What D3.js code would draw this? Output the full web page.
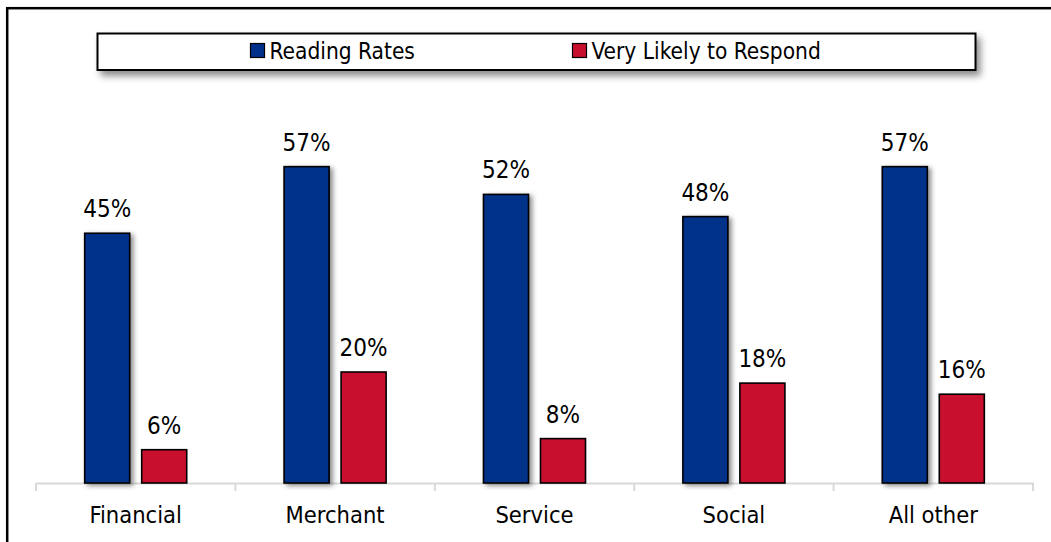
<!DOCTYPE html>
<html>
<head>
<meta charset="utf-8">
<script src="https://cdn.jsdelivr.net/npm/d3@7/dist/d3.min.js"></script>
<style>
  html, body { margin: 0; padding: 0; background: #fff; }
  svg { display: block; }
  text { font-family: "DejaVu Sans Condensed", "DejaVu Sans", sans-serif; font-stretch: condensed; fill: #000; }
</style>
</head>
<body>
<svg id="chart" width="1051" height="542"></svg>
<script>
// Chart data
const categories = ["Financial", "Merchant", "Service", "Social", "All other"];
const seriesNames = ["Reading Rates", "Very Likely to Respond"];
const readingRates = [0.45, 0.57, 0.52, 0.48, 0.57];
const veryLikely = [0.06, 0.20, 0.08, 0.18, 0.16];
const seriesColors = ["#00308A", "#C8102E"];

const svg = d3.select("#chart");
const W = 1051, H = 542;

// Drop-shadow filters
const defs = svg.append("defs");
function shadow(id, dx, dy, sd, op) {
  const f = defs.append("filter").attr("id", id)
    .attr("x", "-20%").attr("y", "-20%").attr("width", "160%").attr("height", "160%");
  f.append("feDropShadow").attr("dx", dx).attr("dy", dy)
    .attr("stdDeviation", sd).attr("flood-color", "#000").attr("flood-opacity", op);
}
shadow("barShadow", 3, 2, 2.5, 0.45);
shadow("legendShadow", 4, 5, 3.5, 0.45);

// Outer frame
svg.append("rect")
  .attr("x", 7.2).attr("y", 8.2).attr("width", W + 20).attr("height", H + 20)
  .attr("fill", "none").attr("stroke", "#000").attr("stroke-width", 2.5);

// Scales
const plot = { left: 36, right: 1033, base: 483 };
const x0 = d3.scaleBand().domain(categories).range([plot.left, plot.right]);
const x1 = d3.scaleBand().domain(seriesNames).range([0, x0.bandwidth()])
  .paddingInner(0.21).paddingOuter(0.854);
const y = d3.scaleLinear().domain([0, 0.6]).range([plot.base, 150]);

const rows = categories.map((c, i) => ({
  cat: c,
  vals: [
    { s: seriesNames[0], v: readingRates[i], color: seriesColors[0] },
    { s: seriesNames[1], v: veryLikely[i], color: seriesColors[1] }
  ]
}));

// Axis baseline with category ticks
const axis = d3.axisBottom(x0).tickSize(0).tickPadding(0).tickFormat("");
const axisG = svg.append("g").attr("transform", `translate(0,${plot.base})`).call(axis);
axisG.select(".domain").attr("stroke", "#d9d9d9").attr("stroke-width", 2);
const boundaries = d3.range(categories.length + 1).map(i => plot.left + i * x0.step());
axisG.selectAll("line.bound").data(boundaries).join("line")
  .attr("class", "bound")
  .attr("x1", d => d).attr("x2", d => d).attr("y1", 0).attr("y2", 8)
  .attr("stroke", "#d9d9d9").attr("stroke-width", 2);

// Category labels
svg.selectAll("text.cat").data(categories).join("text")
  .attr("class", "cat")
  .attr("x", d => x0(d) + x0.bandwidth() / 2)
  .attr("y", 523)
  .attr("text-anchor", "middle")
  .attr("font-size", 23.5)
  .text(d => d);

// Bars
const groups = svg.selectAll("g.grp").data(rows).join("g")
  .attr("class", "grp")
  .attr("transform", d => `translate(${x0(d.cat)},0)`);

groups.selectAll("rect").data(d => d.vals).join("rect")
  .attr("x", d => x1(d.s))
  .attr("y", d => y(d.v))
  .attr("width", x1.bandwidth())
  .attr("height", d => plot.base - y(d.v))
  .attr("fill", d => d.color)
  .attr("stroke", "#000")
  .attr("stroke-width", 1.6)
  .attr("filter", (d, i) => i === 0 ? "url(#barShadow)" : null);

// Value labels
groups.selectAll("text.val").data(d => d.vals).join("text")
  .attr("class", "val")
  .attr("x", d => x1(d.s) + x1.bandwidth() / 2)
  .attr("y", d => y(d.v) - 16)
  .attr("text-anchor", "middle")
  .attr("font-size", 24)
  .text(d => d3.format(".0%")(d.v));

// Legend
const legend = svg.append("g");
legend.append("rect")
  .attr("x", 97.5).attr("y", 33.5).attr("width", 878).attr("height", 36.5)
  .attr("fill", "#fff").attr("stroke", "#000").attr("stroke-width", 2)
  .attr("filter", "url(#legendShadow)");
const legendX = [250.5, 572.5];
seriesNames.forEach((name, i) => {
  legend.append("rect")
    .attr("x", legendX[i]).attr("y", 43.5).attr("width", 14).attr("height", 14)
    .attr("fill", seriesColors[i]).attr("stroke", "#000").attr("stroke-width", 1.2);
  legend.append("text")
    .attr("x", legendX[i] + 19).attr("y", 59)
    .attr("font-size", 22.5)
    .text(name);
});
</script>
</body>
</html>
